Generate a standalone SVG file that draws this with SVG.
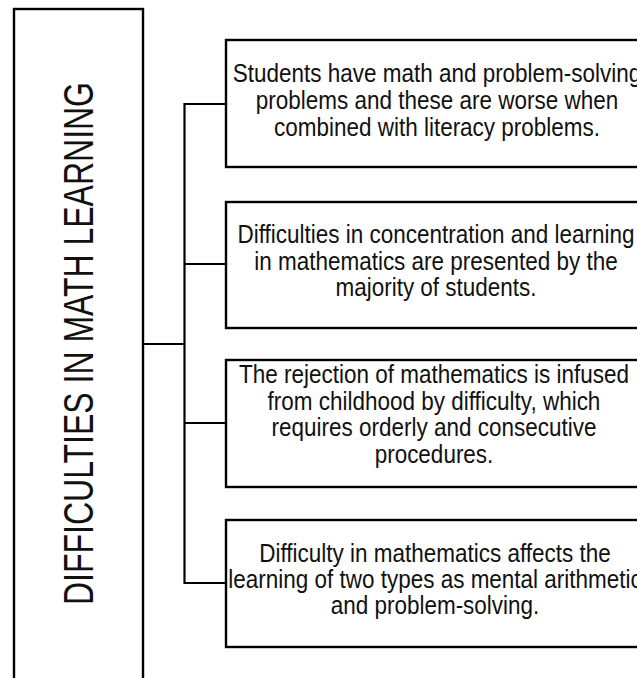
<svg xmlns="http://www.w3.org/2000/svg" width="637" height="678" viewBox="0 0 637 678">
  <style>
    .box { fill: #ffffff; stroke: #000000; stroke-width: 2.4; }
    .wire { fill: none; stroke: #000000; stroke-width: 2.2; }
    .txt { font-family: 'Liberation Sans', Arial, sans-serif; font-size: 26px; fill: #111111; text-anchor: middle; }
    .title { font-family: 'Liberation Sans', Arial, sans-serif; font-size: 43px; fill: #111111; text-anchor: middle; }
  </style>
  <rect width="637" height="678" fill="#ffffff"/>

  <!-- tree connectors: trunk with four branches -->
  <g id="connectors">
    <path class="wire" d="M143,344 H184.5"/>
    <path class="wire" d="M226,104 H184.5 V583 H226"/>
    <path class="wire" d="M184.5,264 H226"/>
    <path class="wire" d="M184.5,423 H226"/>
  </g>

  <!-- root node, running off the bottom edge -->
  <g id="root">
    <rect class="box" x="14" y="9" width="129" height="690"/>
    <text class="title" transform="translate(93,343.5) rotate(-90)" textLength="523" lengthAdjust="spacingAndGlyphs">DIFFICULTIES IN MATH LEARNING</text>
  </g>

  <!-- leaf nodes; text condensed horizontally -->
  <g id="node1">
    <rect class="box" x="226" y="40" width="422" height="127"/>
    <g transform="translate(437,0) scale(0.865,1)">
      <text class="txt" x="0" y="82">Students have math and problem-solving</text>
      <text class="txt" x="0" y="109">problems and these are worse when</text>
      <text class="txt" x="0" y="136">combined with literacy problems.</text>
    </g>
  </g>

  <g id="node2">
    <rect class="box" x="226" y="202" width="422" height="126"/>
    <g transform="translate(436,0) scale(0.865,1)">
      <text class="txt" x="0" y="243">Difficulties in concentration and learning</text>
      <text class="txt" x="0" y="270">in mathematics are presented by the</text>
      <text class="txt" x="0" y="296">majority of students.</text>
    </g>
  </g>

  <g id="node3">
    <rect class="box" x="226" y="360" width="422" height="127"/>
    <g transform="translate(434,0) scale(0.865,1)">
      <text class="txt" x="0" y="383">The rejection of mathematics is infused</text>
      <text class="txt" x="0" y="410">from childhood by difficulty, which</text>
      <text class="txt" x="0" y="436">requires orderly and consecutive</text>
      <text class="txt" x="0" y="463">procedures.</text>
    </g>
  </g>

  <g id="node4">
    <rect class="box" x="226" y="520" width="422" height="127"/>
    <g transform="translate(435,0) scale(0.865,1)">
      <text class="txt" x="0" y="562">Difficulty in mathematics affects the</text>
      <text class="txt" x="0" y="588">learning of two types as mental arithmetic</text>
      <text class="txt" x="0" y="614">and problem-solving.</text>
    </g>
  </g>
</svg>
